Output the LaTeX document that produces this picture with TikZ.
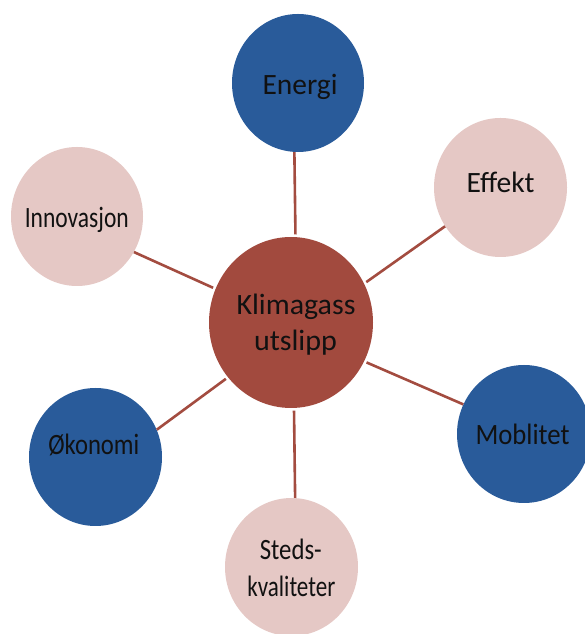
\documentclass[tikz,border=0pt]{standalone}
\usepackage{fontspec}
\setmainfont{Carlito}
\usepackage{graphicx}
\usetikzlibrary{shapes.geometric}
\definecolor{hubred}{RGB}{162,74,62}
\definecolor{linered}{RGB}{163,76,64}
\definecolor{darkblue}{RGB}{41,91,154}
\definecolor{lightpink}{RGB}{229,200,197}
\definecolor{txtcol}{RGB}{17,17,17}
\newcommand{\fitw}[2]{\resizebox{#1pt}{\height}{#2}}
\tikzset{
  bubble/.style={ellipse, draw=none, inner sep=0pt, minimum width=133pt, minimum height=138pt},
  bluebubble/.style={bubble, fill=darkblue},
  pinkbubble/.style={bubble, fill=lightpink},
  hub/.style={ellipse, draw=none, inner sep=0pt, fill=hubred, minimum width=164pt, minimum height=171pt},
  lbl/.style={anchor=base, inner sep=0pt, text=txtcol, font=\fontsize{29.5}{36}\selectfont},
  spoke/.style={draw=linered, line width=2.6pt, shorten <=2.5pt}
}
\begin{document}
\begin{tikzpicture}[x=1pt,y=1pt]
\useasboundingbox (0,0) rectangle (584,634);
% circles
\node[hub] (C) at (291,311.5) {};
\node[bluebubble, minimum width=132pt] (en) at (298,551) {};
\node[pinkbubble, minimum height=139pt] (ef) at (500.5,446.5) {};
\node[pinkbubble, minimum width=132pt, minimum height=139pt] (in) at (77,417.5) {};
\node[bluebubble] (ok) at (95.5,177) {};
\node[bluebubble, minimum width=134pt] (mo) at (524,200) {};
\node[pinkbubble] (st) at (291.5,67) {};
% spokes
\draw[spoke] (C.87.4) -- (en.267.5);
\draw[spoke] (C.28.05) -- (ef.215.2);
\draw[spoke] (C.156.8) -- (in.328.6);
\draw[spoke] (C.332.8) -- (mo.154.8);
\draw[spoke] (C.221.4) -- (ok.24.8);
\draw[spoke] (C.272.6) -- (st.87.1);
% labels
\node[lbl] (tC1) at (296,319) {\fitw{119}{Klimagass}};
\node[lbl] (tC2) at (295.5,283) {\fitw{83}{utslipp}};
\node[lbl] (ten) at (300,539.7) {\fitw{75}{Energi}};
\node[lbl] (tef) at (500.5,441.7) {\fitw{68}{Effekt}};
\node[lbl] (tin) at (76.8,406.7) {\fitw{104}{Innovasjon}};
\node[lbl] (tok) at (93.8,179) {\fitw{91}{Økonomi}};
\node[lbl] (tmo) at (522.5,189) {\fitw{94}{Moblitet}};
\node[lbl] (tst1) at (290.8,74) {\fitw{62}{Steds-}};
\node[lbl] (tst2) at (291.3,37.3) {\fitw{88}{kvaliteter}};
\end{tikzpicture}
\end{document}
